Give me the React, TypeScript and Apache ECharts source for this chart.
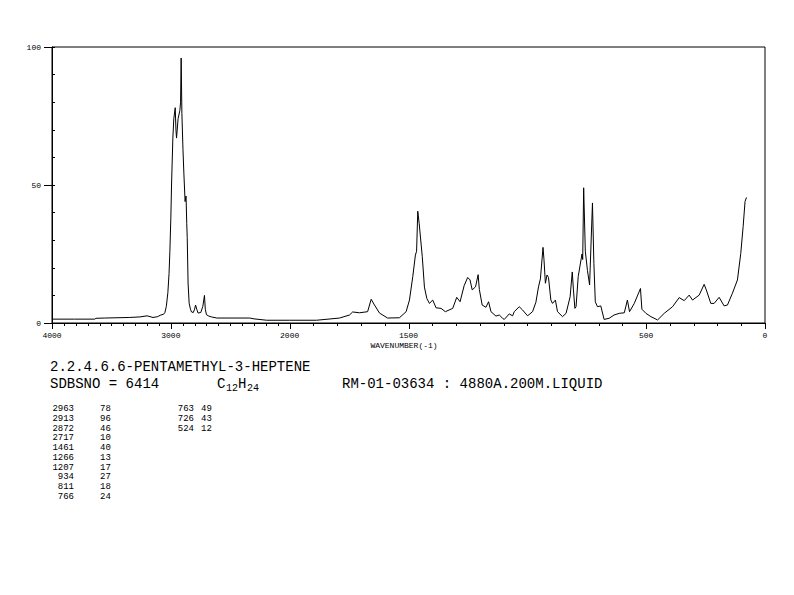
import React, { useEffect, useRef } from "react";
import * as echarts from "echarts";

// Spectrum (wavenumber, cm-1) and intensity (%)
const WAVENUMBERS = [
  4000, 3810, 3640, 3630, 3560, 3350, 3260, 3200, 3150, 3110, 3090, 3060, 3050, 3038, 3025, 3015, 3008, 3000, 2994, 2983,
  2975, 2963, 2957, 2952, 2939, 2924, 2918, 2913, 2907, 2898, 2890, 2880, 2872, 2866, 2862, 2855, 2846, 2835, 2826, 2811,
  2800, 2792, 2782, 2771, 2748, 2731, 2717, 2710, 2700, 2680, 2658, 2613, 2336, 2300, 2193, 2000, 1887, 1790, 1748, 1735,
  1706, 1672, 1657, 1643, 1622, 1588, 1538, 1510, 1496, 1482, 1471, 1466, 1461, 1455, 1442, 1433, 1423, 1412, 1398, 1384,
  1363, 1345, 1314, 1297, 1283, 1266, 1251, 1241, 1232, 1218, 1207, 1202, 1190, 1174, 1163, 1153, 1132, 1118, 1104, 1097,
  1076, 1062, 1055, 1034, 1020, 999, 978, 964, 953, 945, 934, 930, 924, 917, 911, 901, 894, 882, 873, 852,
  837, 820, 811, 806, 800, 795, 786, 770, 767, 763, 756, 747, 738, 726, 720, 714, 705, 691, 677, 656,
  635, 613, 592, 579, 570, 550, 524, 518, 501, 480, 452, 424, 389, 361, 340, 319, 305, 277, 256, 247,
  228, 214, 193, 172, 158, 137, 116, 102, 92, 84, 78,
];
const INTENSITY = [
  1.4, 1.4, 1.4, 1.7, 1.8, 2.0, 2.2, 2.6, 2.0, 2.3, 2.8, 3.2, 3.8, 6, 11, 18, 26, 38, 50, 67,
  74, 78, 70, 67, 74, 77, 80, 96, 76, 63, 54, 44, 46, 36, 31, 14.5, 7.2, 5, 4, 3.8,
  5, 6.5, 5, 3.6, 3.8, 6, 10, 5, 3, 2.5, 2.2, 1.8, 1.8, 1.5, 1.0, 1.0, 1.0, 1.8, 2.9, 4,
  3.7, 4.1, 8.6, 6.5, 3.6, 1.8, 1.9, 4.1, 8.3, 16.8, 24.6, 26, 40.5, 36, 24, 13, 8.9, 7.1, 8.3, 5.5,
  5.3, 4.1, 5.3, 9.3, 7.7, 13.5, 16.5, 15.6, 12, 13.1, 17.5, 12.2, 6.5, 5.7, 7.7, 4.1, 2.5, 2.9, 1.7, 1.3,
  3.3, 2.6, 4.1, 5.9, 4.7, 2.6, 4.1, 7.5, 13.1, 16, 27.4, 23, 14.4, 17.4, 16.5, 8.3, 7.1, 8.3, 4.1, 2.3,
  3.5, 9.5, 18.5, 12, 5.3, 5.9, 16.8, 25, 23, 49, 26, 19, 13.8, 43.5, 21.6, 7.7, 5.9, 6.2, 1.3, 1.7,
  2.9, 3.5, 3.7, 8.3, 4.1, 7.1, 12.5, 5, 3.5, 2.3, 1.1, 3.5, 5.9, 9.2, 8.1, 10.1, 8.3, 10.1, 14, 12,
  7.1, 7.1, 9.3, 6.2, 6.5, 10.8, 15.6, 25.2, 34.9, 44, 45.5,
];

const X_LABELS = [4000, 3000, 2000, 1500, 500, 0];
const X_TICK_STEP = 100;
const Y_LABELS = [0, 50, 100];
const Y_TICK_STEP = 10;

const PEAK_WN_1 = ["2963", "2913", "2872", "2717", "1461", "1266", "1207", "934", "811", "766"];
const PEAK_INT_1 = ["78", "96", "46", "10", "40", "13", "17", "27", "18", "24"];
const PEAK_WN_2 = ["763", "726", "524"];
const PEAK_INT_2 = ["49", "43", "12"];

const TITLE = "2.2.4.6.6-PENTAMETHYL-3-HEPTENE";
const SDBS_NO = "SDBSNO = 6414";
const MEASURE = "RM-01-03634 : 4880A.200M.LIQUID";
const X_NAME = "WAVENUMBER(-1)";

// Axis is compressed 2:1 above 2000 cm-1
const toT = (wn: number) => (wn > 2000 ? 2000 + (wn - 2000) / 2 : wn);
const fromT = (t: number) => (t > 2000 ? 2000 + (t - 2000) * 2 : t);

const FONT = "Liberation Mono";

export default function App() {
  const ref = useRef<HTMLDivElement>(null);
  useEffect(() => {
    if (!ref.current) return;
    const chart = echarts.init(ref.current, undefined, { renderer: "svg" });
    const data = WAVENUMBERS.map((wn, i) => [toT(wn), INTENSITY[i]]);
    // tick kinds: 0 x-minor, 1 x-major, 3 y-major (y-minor drawn by the axis itself)
    const ticks: number[][] = [];
    for (let wn = 4000; wn >= 0; wn -= X_TICK_STEP) {
      ticks.push([toT(wn), 0, X_LABELS.indexOf(wn) >= 0 ? 1 : 0]);
    }
    Y_LABELS.forEach((v) => ticks.push([3000, v, 3]));
    const majorT = X_LABELS.map(toT);

    const graphic: any[] = [];
    const txt = (text: string, x: number, y: number, size: number, align = "left") => ({
      type: "text",
      x,
      y,
      silent: true,
      style: { text, fill: "#000", font: `${size}px "${FONT}"`, align, verticalAlign: "middle" },
    });
    graphic.push(txt(X_NAME, 404, 345, 8, "center"));
    graphic.push(txt(TITLE, 50, 367, 14));
    graphic.push(txt(SDBS_NO, 50, 384, 14));
    graphic.push(txt("C", 217, 384, 14));
    graphic.push(txt("12", 226, 388, 10));
    graphic.push(txt("H", 238, 384, 14));
    graphic.push(txt("24", 247, 388, 10));
    graphic.push(txt(MEASURE, 342, 384, 14));
    const rowY0 = 409;
    const rowDy = 9.78;
    PEAK_WN_1.forEach((w, i) => {
      graphic.push(txt(w, 74, rowY0 + i * rowDy, 9, "right"));
      graphic.push(txt(PEAK_INT_1[i], 100, rowY0 + i * rowDy, 9));
    });
    PEAK_WN_2.forEach((w, i) => {
      graphic.push(txt(w, 194, rowY0 + i * rowDy, 9, "right"));
      graphic.push(txt(PEAK_INT_2[i], 201, rowY0 + i * rowDy, 9));
    });

    const renderTick = (params: any, api: any) => {
      const kind = api.value(2);
      const p = api.coord([api.value(0), api.value(1)]);
      const style = { stroke: "#000", lineWidth: 1 };
      if (kind === 3) {
        const y = Math.round(p[1]) + 0.5;
        return { type: "line", shape: { x1: p[0] - 8, y1: y, x2: p[0], y2: y }, style };
      }
      const x = Math.round(p[0]) + 0.5;
      return { type: "line", shape: { x1: x, y1: p[1], x2: x, y2: p[1] + (kind === 1 ? 6 : 3) }, style };
    };

    chart.setOption({
      animation: false,
      backgroundColor: "#fff",
      grid: {
        left: 52,
        right: 29,
        top: 47,
        bottom: 272,
        show: true,
        borderColor: "#000",
        borderWidth: 1,
        backgroundColor: "transparent",
      },
      xAxis: {
        type: "value",
        position: "bottom",
        min: 0,
        max: 3000,
        inverse: true,
        axisLine: { show: true, onZero: false, lineStyle: { color: "#000", width: 1 } },
        axisTick: { show: false },
        axisLabel: {
          show: true,
          customValues: majorT,
          formatter: (v: number) => String(Math.round(fromT(v))),
          margin: 8,
          fontSize: 8,
          fontFamily: FONT,
          color: "#000",
          showMinLabel: true,
          showMaxLabel: true,
        },
        splitLine: { show: false },
      },
      yAxis: {
        type: "value",
        position: "left",
        min: 0,
        max: 100,
        interval: Y_TICK_STEP,
        axisLine: { show: true, onZero: false, lineStyle: { color: "#000", width: 1 } },
        axisTick: { show: true, inside: true, length: 3, lineStyle: { color: "#000", width: 1 } },
        axisLabel: {
          show: true,
          margin: 11,
          fontSize: 8,
          fontFamily: FONT,
          color: "#000",
          formatter: (v: number) => (Y_LABELS.indexOf(v) >= 0 ? String(v) : ""),
        },
        splitLine: { show: false },
      },
      series: [
        {
          type: "line",
          data,
          showSymbol: false,
          symbol: "none",
          lineStyle: { color: "#000", width: 1 },
        },
        {
          type: "custom",
          clip: false,
          silent: true,
          data: ticks,
          encode: { x: 0, y: 1 },
          renderItem: renderTick,
        },
      ],
      graphic,
    });
    return () => chart.dispose();
  }, []);
  return (
    <div
      ref={ref}
      style={{ position: "fixed", left: 0, top: 0, width: 794, height: 595, background: "#fff" }}
    />
  );
}
